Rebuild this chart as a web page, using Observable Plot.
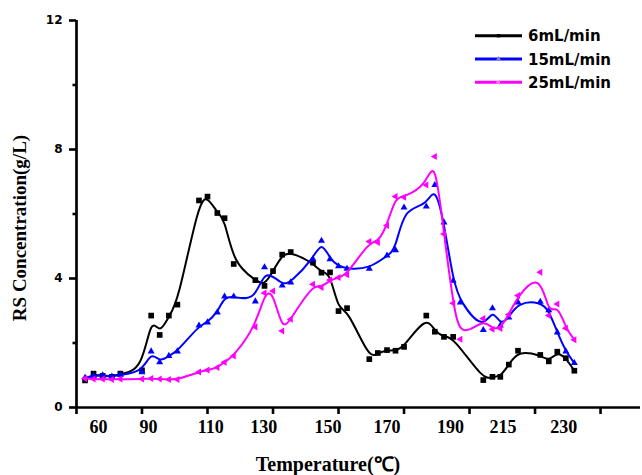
<!DOCTYPE html>
<html><head><meta charset="utf-8">
<script src="https://cdn.jsdelivr.net/npm/d3@7"></script>
<script src="https://cdn.jsdelivr.net/npm/@observablehq/plot@0.6"></script>
<style>body{margin:0;background:#fff} svg{display:block}</style>
</head><body><div id="chart"></div>
<script>
// x positions in axis units (one unit = distance between two x tick marks)
const xPos = [0.13, 0.26, 0.40, 0.54, 0.67, 1.00, 1.14, 1.27, 1.41, 1.54,
              1.87, 2.00, 2.15, 2.26, 2.40, 2.73, 2.87, 3.00, 3.14, 3.27,
              3.61, 3.74, 3.87, 4.00, 4.13, 4.47, 4.60, 4.74, 4.87, 5.00,
              5.34, 5.47, 5.61, 5.75, 5.86, 6.21, 6.35, 6.47, 6.60, 6.74,
              7.08, 7.21, 7.34, 7.47, 7.60];
const rs6 = [0.84, 1.05, 0.98, 0.95, 1.05, 1.15, 2.85, 2.25, 2.85, 3.19,
             6.42, 6.54, 6.03, 5.87, 4.45, 3.95, 3.77, 4.23, 4.74, 4.82,
             4.49, 4.18, 4.19, 2.99, 3.08, 1.50, 1.69, 1.78, 1.76, 1.88,
             2.85, 2.35, 2.19, 2.19, null, 0.85, 0.95, 0.95, 1.33, 1.76,
             1.63, 1.43, 1.73, 1.53, 1.14];
const rs15 = [0.92, 0.98, 1.00, 0.96, 1.02, 1.09, 1.74, 1.40, 1.60, 1.74,
              2.54, 2.64, 2.95, 3.44, 3.44, 3.29, 4.35, null, 3.78, 3.88,
              4.60, 5.17, 4.60, 4.38, 4.30, 4.30, null, 4.71, 4.88, 6.20,
              6.23, 6.90, 5.74, 3.93, 3.26, 2.40, 3.08, 2.54, 2.79, 3.26,
              3.28, 3.02, 2.33, 1.74, 1.38];
const rs25 = [0.90, 0.88, 0.88, 0.87, 0.88, 0.88, 0.90, 0.88, 0.87, 0.87,
              1.10, 1.16, 1.24, 1.40, 1.60, 2.50, 3.55, 3.61, 2.37, 2.74,
              3.82, 3.72, 3.95, 4.03, 4.12, 5.15, 5.12, 5.64, 6.54, 6.52,
              6.90, 7.78, 5.38, 3.23, 2.12, 2.76, 2.43, 2.45, 2.88, 3.47,
              4.19, 2.85, 3.21, 2.46, 2.10];
const seriesNames = ["6mL/min", "15mL/min", "25mL/min"];
const xTicks = [0, 1, 2, 3, 4, 5, 6, 7, 8];
const xTickLabels = ["60", "90", "110", "130", "150", "170", "190", "215", "230"];
const xTickLabelPos = [0.336, 1.10, 2.05, 2.86, 3.84, 4.74, 5.71, 6.51, 7.44];
const yTicks = [0, 4, 8, 12];
const yMinorTicks = [2, 6, 10];

const colors = ["#000000", "#0000ff", "#ff00ff"];
const rows = (vals, name) => xPos.map((x, i) => ({x, y: vals[i], s: name})).filter(d => d.y != null);
const d6 = rows(rs6, seriesNames[0]);
const d15 = rows(rs15, seriesNames[1]);
const d25 = rows(rs25, seriesNames[2]);

const leftTriangle = {
  draw(ctx, size) {
    const s = Math.sqrt(size * 4 / Math.sqrt(3));
    const h = s * Math.sqrt(3) / 2;
    ctx.moveTo(-2 * h / 3, 0);
    ctx.lineTo(h / 3, -s / 2);
    ctx.lineTo(h / 3, s / 2);
    ctx.closePath();
  }
};

const svg = Plot.plot({
  width: 642,
  height: 475,
  marginLeft: 76,
  marginRight: 2,
  marginTop: 20,
  marginBottom: 68,
  x: {domain: [0, 8.61]},
  y: {domain: [0, 12]},
  style: {background: "#fff"},
  marks: [
    Plot.axisY(yTicks, {tickSize: 7, tickPadding: 7, strokeWidth: 2.6, fontSize: 12,
      fontWeight: "bold", fontFamily: "DejaVu Sans", fill: "#000", label: null, tickFormat: d => String(d)}),
    Plot.axisY(yMinorTicks, {tickSize: 3.5, strokeWidth: 2.6, tickFormat: () => "", label: null}),
    Plot.axisX(xTicks, {tickSize: 7, strokeWidth: 2.6, tickFormat: () => "", label: null}),
    Plot.text(xTickLabels, {x: xTickLabelPos, text: d => d, frameAnchor: "bottom", dy: 25, lineAnchor: "bottom",
      fontSize: 18, fontWeight: "bold", fontFamily: "Liberation Serif", fill: "#000"}),
    Plot.line(d6, {x: "x", y: "y", stroke: colors[0], strokeWidth: 2, curve: "basis"}),
    Plot.dot(d6, {x: "x", y: "y", fill: colors[0], symbol: "square", r: 3.2}),
    Plot.line(d15, {x: "x", y: "y", stroke: colors[1], strokeWidth: 2, curve: "basis"}),
    Plot.dot(d15, {x: "x", y: "y", fill: colors[1], symbol: "triangle", r: 2.6}),
    Plot.line(d25, {x: "x", y: "y", stroke: colors[2], strokeWidth: 2, curve: "basis"}),
    Plot.dot(d25, {x: "x", y: "y", fill: colors[2], symbol: leftTriangle, r: 2.6}),
    Plot.ruleY([0], {stroke: "#000", strokeWidth: 2.7}),
    Plot.ruleX([0], {y1: 0, y2: 12, stroke: "#000", strokeWidth: 2.7})
  ]
});

const root = d3.select(svg);
// axis titles
root.append("text")
  .attr("x", 328).attr("y", 471)
  .attr("text-anchor", "middle")
  .attr("font-family", "Liberation Serif").attr("font-weight", "bold").attr("font-size", 20)
  .attr("fill", "#000")
  .text("Temperature(℃)");
root.append("text")
  .attr("transform", "translate(26,228) rotate(-90)")
  .attr("text-anchor", "middle")
  .attr("font-family", "Liberation Serif").attr("font-weight", "bold").attr("font-size", 19)
  .attr("fill", "#000")
  .text("RS Concentration(g/L)");

// legend
const legendSymbols = [d3.symbolSquare, d3.symbolTriangle, leftTriangle];
const legendY = [35.7, 59, 82.3];
const lg = root.append("g").attr("text-anchor", "start");
seriesNames.forEach((name, i) => {
  const y = legendY[i];
  lg.append("line").attr("x1", 475).attr("x2", 522).attr("y1", y).attr("y2", y)
    .attr("stroke", colors[i]).attr("stroke-width", 3);
  lg.append("path").attr("d", d3.symbol(legendSymbols[i], 12)())
    .attr("transform", `translate(498.5,${y})`)
    .attr("fill", i === 0 ? "#000" : (i === 1 ? "#7f7fff" : "#ff7fff"));
  lg.append("text").attr("x", 528).attr("y", y + 5.5)
    .attr("text-anchor", "start")
    .attr("font-family", "DejaVu Sans").attr("font-weight", "bold").attr("font-size", 15)
    .attr("fill", "#000").text(name);
});

document.getElementById("chart").appendChild(svg);
</script>
</body></html>
